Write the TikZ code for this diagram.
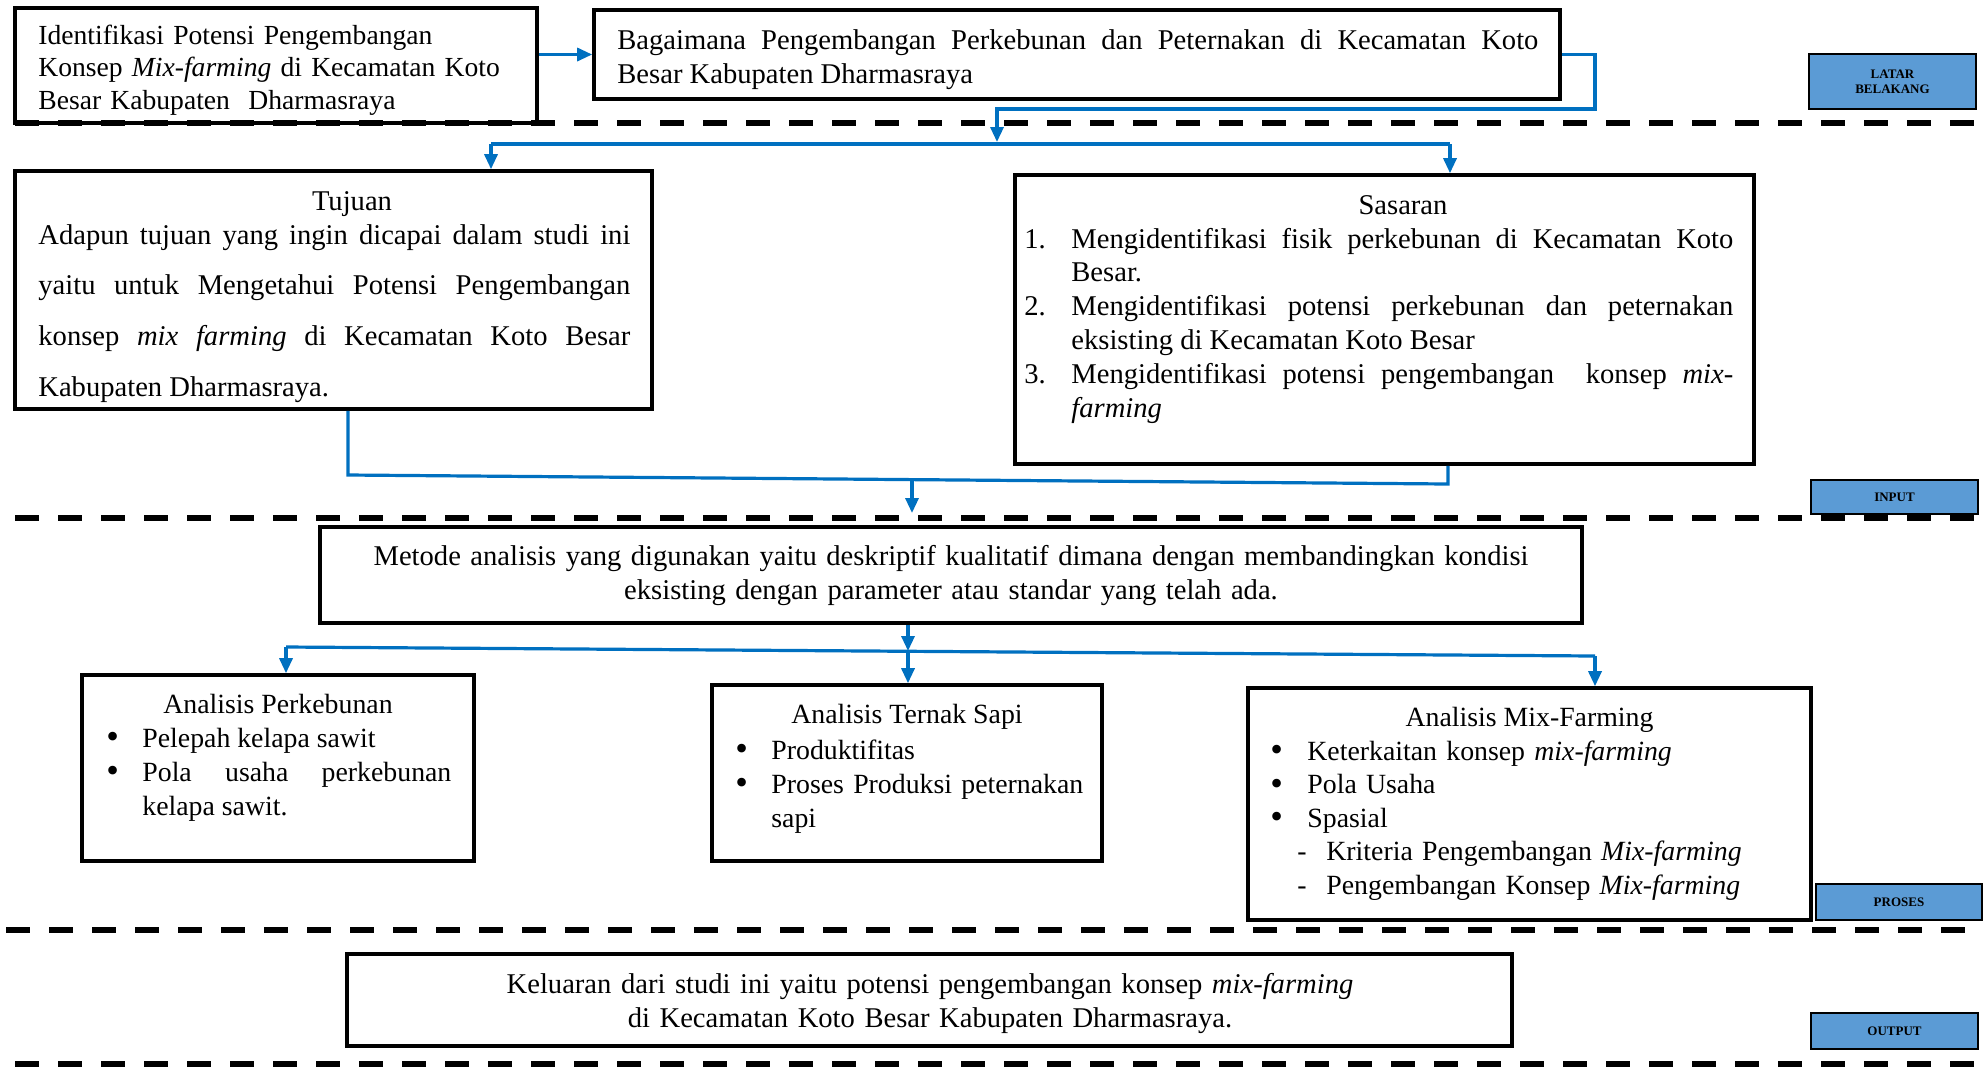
\documentclass[tikz,border=0pt]{standalone}
\usepackage{fontspec}
\setmainfont{Liberation Serif}
\usetikzlibrary{arrows.meta,calc}
\definecolor{lblue}{HTML}{5B9BD5}
\definecolor{cblue}{HTML}{0070C0}
\newcommand{\nohyph}{\hyphenpenalty=10000\relax\exhyphenpenalty=10000\relax\emergencystretch=20pt\relax}
\newcommand{\bigbul}{\raisebox{-0.8pt}{\fontsize{18}{18}\selectfont\textbullet}}
\newcommand{\bul}[1][18pt]{\hangindent=#1\relax\hangafter=1\relax\makebox[#1][l]{\bigbul}\ignorespaces}
\newcommand{\dsh}{\hangindent=28pt\relax\hangafter=1\relax\makebox[28pt][l]{\hspace{13.5pt}-}\ignorespaces}
\newcommand{\num}[1]{\hangindent=23.5pt\relax\hangafter=1\relax\makebox[23.5pt][l]{#1}\ignorespaces}
\tikzset{
  box/.style={draw, line width=1.8pt, inner sep=0pt},
  txt/.style={inner sep=0pt, font=\fontsize{14.3}{17}\selectfont\nohyph},
  atxt/.style={inner sep=0pt, font=\fontsize{13.9}{17}\selectfont\nohyph},
  lbl/.style={draw, line width=1.2pt, fill=lblue, inner sep=0pt, align=center,
    font=\fontsize{6.5}{7.5}\selectfont\bfseries},
  conn/.style={draw=cblue, line width=1.6pt},
  arr/.style={conn, -{Triangle[length=7.5pt,width=6.5pt]}},
  sep/.style={line width=2.6pt, dash pattern=on 12pt off 9.5pt},
}
\begin{document}
\begin{tikzpicture}[x=0.5pt,y=-0.5pt]
\fill[white] (0,0) rectangle (1986,1067);
\useasboundingbox (0,0) rectangle (1986,1067);

% boxes
\node[box, minimum width=261pt, minimum height=57.5pt] (boxA) at (276,65.5) {};
\node[box, minimum width=483pt, minimum height=44.5pt] (boxB) at (1077,54.5) {};
\node[box, minimum width=318.5pt, minimum height=119pt] (tujuan) at (333.5,290) {};
\node[box, minimum width=369.5pt, minimum height=144.5pt] (sasaran) at (1384.5,319.5) {};
\node[box, minimum width=631pt, minimum height=48pt] (metode) at (951,575) {};
\node[box, minimum width=196pt, minimum height=93pt] (kebun) at (278,768) {};
\node[box, minimum width=195pt, minimum height=88pt] (ternak) at (907,773) {};
\node[box, minimum width=281.5pt, minimum height=116pt] (mix) at (1529.5,804) {};
\node[box, minimum width=582.5pt, minimum height=46pt] (keluaran) at (929.5,1000) {};

% labels
\node[lbl, minimum width=83.5pt, minimum height=27.5pt] (latar) at (1892.5,81.5) {LATAR\\BELAKANG};
\node[lbl, minimum width=83.5pt, minimum height=17pt] (input) at (1894.5,497) {INPUT};
\node[lbl, minimum width=83pt, minimum height=18pt] (proses) at (1899,902) {PROSES};
\node[lbl, minimum width=83.5pt, minimum height=18pt] (output) at (1894.5,1031) {OUTPUT};

% separators
\draw[sep] (15,123) -- (1982,123);
\draw[sep] (15,518) -- (1976,518);
\draw[sep] (6,930) -- (1976,930);
\draw[sep] (15,1064) -- (1976,1064);

% texts
\node[txt, font=\fontsize{13.8}{16.25}\selectfont\nohyph, anchor=base west, text width=240pt, align=left] (boxAt) at (38,44)
  {Identifikasi Potensi Pengembangan\newline Konsep \textit{Mix-farming} di Kecamatan Koto\newline Besar Kabupaten\ \ Dharmasraya\par};
\node[txt, anchor=base west, text width=460.5pt, align=justify] (boxBt) at (617,49)
  {Bagaimana Pengembangan Perkebunan dan Peternakan di Kecamatan Koto\linebreak Besar Kabupaten Dharmasraya\par};

\node[txt, anchor=base] (tujuanT) at (352,210) {Tujuan};
\node[txt, font=\fontsize{14.3}{25.4}\selectfont\nohyph, anchor=base west, text width=296pt, align=justify] (tujuanB) at (38,244)
  {Adapun tujuan yang ingin dicapai dalam studi ini\linebreak yaitu untuk Mengetahui Potensi Pengembangan\linebreak konsep \textit{mix farming} di Kecamatan Koto Besar\linebreak Kabupaten Dharmasraya.\par};

\node[txt, anchor=base] (sasaranT) at (1403,214) {Sasaran};
\node[txt, font=\fontsize{14.3}{16.9}\selectfont\nohyph, anchor=base west, text width=354.5pt, align=justify] (sasaranB) at (1024,248)
  {\num{1.}Mengidentifikasi fisik perkebunan di Kecamatan Koto\linebreak Besar.\par
   \num{2.}Mengidentifikasi potensi perkebunan dan peternakan\linebreak eksisting di Kecamatan Koto Besar\par
   \num{3.}Mengidentifikasi potensi pengembangan\ \ konsep \textit{mix-}\linebreak\textit{farming}\par};

\node[txt, anchor=base, text width=620pt, align=center] (metodeT) at (951,565)
  {Metode analisis yang digunakan yaitu deskriptif kualitatif dimana dengan membandingkan kondisi\\eksisting dengan parameter atau standar yang telah ada.};

\node[atxt, anchor=base] (kebunT) at (278,713) {Analisis Perkebunan};
\node[atxt, anchor=base west, text width=172.5pt, align=justify] (kebunB) at (106,747)
  {\bul Pelepah kelapa sawit\par
   \bul Pola usaha perkebunan\linebreak kelapa sawit.\par};

\node[atxt, anchor=base] (ternakT) at (907,723) {Analisis Ternak Sapi};
\node[atxt, anchor=base west, text width=190pt, align=left] (ternakB) at (735,759)
  {\bul Produktifitas\par
   \bul Proses Produksi peternakan\newline sapi\par};

\node[atxt, anchor=base] (mixT) at (1529.5,726) {Analisis Mix-Farming};
\node[atxt, font=\fontsize{13.9}{16.75}\selectfont\nohyph, anchor=base west, text width=270pt, align=left] (mixB) at (1270,760)
  {\bul[18.5pt]Keterkaitan konsep \textit{mix-farming}\par
   \bul[18.5pt]Pola Usaha\par
   \bul[18.5pt]Spasial\par
   \dsh Kriteria Pengembangan \textit{Mix-farming}\par
   \dsh Pengembangan Konsep \textit{Mix-farming}\par};

\node[txt, anchor=base, text width=560pt, align=center] (keluaranT) at (930,993)
  {Keluaran dari studi ini yaitu potensi pengembangan konsep \textit{mix-farming}\\di Kecamatan Koto Besar Kabupaten Dharmasraya.};

% connectors
\draw[arr] (boxA.east |- boxB.west) -- (boxB.west);

\coordinate (jB) at (1595,109);
\coordinate (jT) at (997,142);
\draw[arr] (boxB.east) -| (jB) -| (jT);
\coordinate (t1) at (491,144);
\coordinate (s1) at (1450,144);
\draw[conn] (t1) -- (s1);
\draw[arr] (t1) -- (t1 |- tujuan.north);
\draw[arr] (s1) -- (s1 |- sasaran.north);

\coordinate (t2) at (348,475);
\coordinate (s2) at (1448,484);
\coordinate (m2) at (912,480);
\coordinate (m2e) at (912,513);
\draw[conn] (tujuan.south -| t2) -- (t2) -- (s2) -- (sasaran.south -| s2);
\draw[arr] (m2) -- (m2e);

\coordinate (m3) at (908,651);
\coordinate (k3) at (286,647);
\coordinate (x3) at (1595,656);
\draw[arr] (metode.south -| m3) -- (m3);
\draw[conn] (k3) -- (x3);
\draw[arr] (k3) -- (k3 |- kebun.north);
\draw[arr] (m3) -- (m3 |- ternak.north);
\draw[arr] (x3) -- (x3 |- mix.north);
\end{tikzpicture}
\end{document}
